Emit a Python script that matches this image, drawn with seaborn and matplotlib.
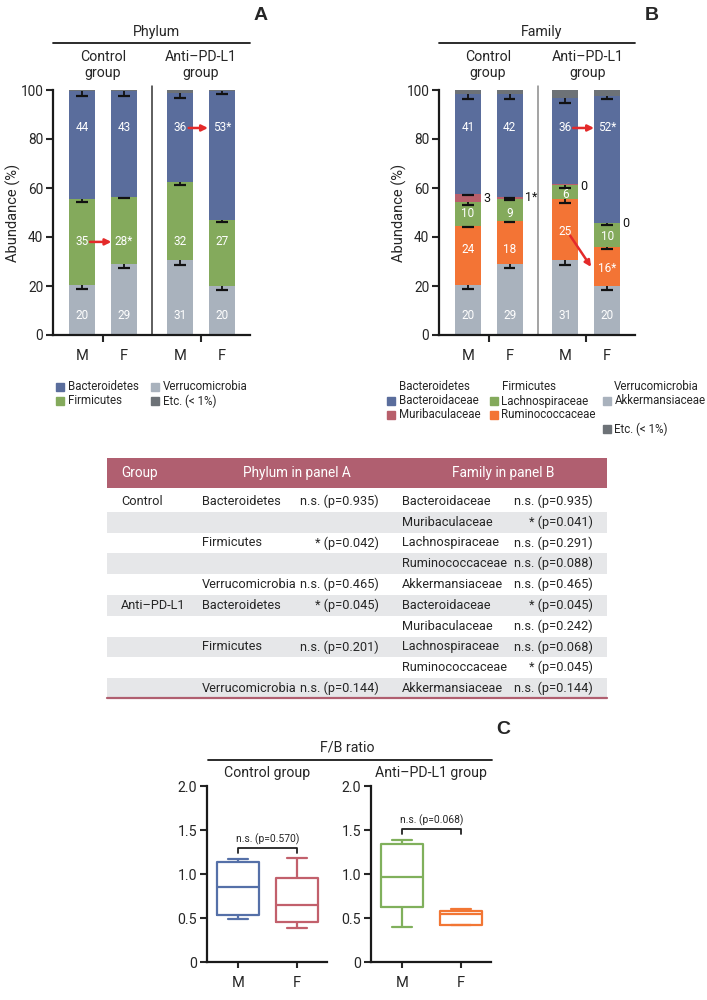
import numpy as np
import pandas as pd
import matplotlib
matplotlib.use("Agg")
import matplotlib.pyplot as plt
import seaborn as sns
from matplotlib.lines import Line2D
from matplotlib.patches import Rectangle

sns.set_theme(style="white")
plt.rcParams["font.family"] = ["Roboto", "DejaVu Sans"]

# ---------------- data ----------------
bar_sex = ["M", "F", "M", "F"]
bar_pos = [0.0, 1.0, 2.333, 3.333]
group_centers = [0.5, 2.833]
group_names = ["Control\ngroup", "Anti\u2013PD-L1\ngroup"]

# Panel A (phylum), stacked bottom -> top
phy_verr = [20.4, 29.0, 30.6, 20.0]
phy_firm = [35.0, 27.5, 32.0, 26.9]
phy_bact = [44.1, 43.0, 36.0, 52.6]
phy_etc = [0.5, 0.5, 1.4, 0.5]
phy_verr_err = [1.8, 1.5, 2.2, 1.8]
phy_firm_err = [1.0, 0.7, 1.4, 0.8]
phy_bact_err = [1.8, 1.8, 1.7, 1.3]
phy_verr_lab = ["20", "29", "31", "20"]
phy_firm_lab = ["35", "28*", "32", "27"]
phy_bact_lab = ["44", "43", "36", "53*"]

# Panel B (family), stacked bottom -> top
fam_akk = [20.4, 29.0, 30.6, 20.0]
fam_rum = [24.0, 17.5, 24.9, 15.8]
fam_lach = [10.0, 9.0, 5.9, 9.8]
fam_mur = [3.0, 1.0, 0.3, 0.3]
fam_bact = [41.0, 42.0, 35.0, 51.7]
fam_akk_err = [1.8, 1.5, 2.2, 1.8]
fam_rum_err = [0.5, 0.4, 1.5, 0.8]
fam_lach_err = [1.2, 0.4, 1.3, 0.7]
fam_mur_err = [0.3, 0.7, 0.0, 0.0]
fam_bact_err = [2.1, 2.2, 1.9, 1.3]
fam_akk_lab = ["20", "29", "31", "20"]
fam_rum_lab = ["24", "18", "25", "16*"]
fam_lach_lab = ["10", "9", "6", "10"]
fam_mur_lab = ["3", "1*", "0", "0"]
fam_bact_lab = ["41", "42", "36", "52*"]

# Table
tbl_group = ["Control", "", "", "", "", "Anti\u2013PD-L1", "", "", "", ""]
tbl_phylum = ["Bacteroidetes", "", "Firmicutes", "", "Verrucomicrobia",
              "Bacteroidetes", "", "Firmicutes", "", "Verrucomicrobia"]
tbl_phylum_p = ["n.s. (p=0.935)", "", "* (p=0.042)", "", "n.s. (p=0.465)",
                "* (p=0.045)", "", "n.s. (p=0.201)", "", "n.s. (p=0.144)"]
tbl_family = ["Bacteroidaceae", "Muribaculaceae", "Lachnospiraceae", "Ruminococcaceae", "Akkermansiaceae",
              "Bacteroidaceae", "Muribaculaceae", "Lachnospiraceae", "Ruminococcaceae", "Akkermansiaceae"]
tbl_family_p = ["n.s. (p=0.935)", "* (p=0.041)", "n.s. (p=0.291)", "n.s. (p=0.088)", "n.s. (p=0.465)",
                "* (p=0.045)", "n.s. (p=0.242)", "n.s. (p=0.068)", "* (p=0.045)", "n.s. (p=0.144)"]

# Panel C (F/B ratio): min, Q1, median, Q3, max
fb_control_M = [0.49, 0.53, 0.85, 1.14, 1.17]
fb_control_F = [0.39, 0.46, 0.65, 0.95, 1.18]
fb_anti_M = [0.40, 0.62, 0.97, 1.34, 1.39]
fb_anti_F = [0.42, 0.42, 0.54, 0.58, 0.60]
fb_pvals = ["n.s. (p=0.570)", "n.s. (p=0.068)"]

# ---------------- style ----------------
C_BLUE = "#5a6d9c"
C_GREEN = "#84aa5c"
C_GRAY = "#a9b2bd"
C_ETC = "#6d7277"
C_MUR = "#b85f6b"
C_ORANGE = "#f37435"
C_RED = "#e42a2a"
C_HEAD = "#b05f70"
C_ROW = "#e6e7e9"

FS_HEAD = 10.2
FS_TICK = 9.8
FS_MF = 10.5
FS_LEG = 8.3
FS_TBL = 9.2
FS_BAR = 8.5
FS_PV = 7.4
BOLD = ["Liberation Sans", "DejaVu Sans"]

W, H = 707, 1000
fig = plt.figure(figsize=(W / 100, H / 100), dpi=100)


def fx(x):
    return x / W


def fy(y):
    return 1 - y / H


def ftext(x, y, s, **kw):
    kw.setdefault("ha", "center")
    kw.setdefault("va", "center")
    fig.text(fx(x), fy(y), s, **kw)


def fline(x0, x1, y, **kw):
    fig.add_artist(Line2D([fx(x0), fx(x1)], [fy(y), fy(y)], color="k", lw=1.3, **kw))


def fsquare(x, y, c):
    fig.add_artist(Line2D([fx(x)], [fy(y)], marker="s", ms=5.3, color=c, ls="none"))


def stacked_panel(ax, layers, colors, errs, div_color):
    cums = np.cumsum(np.array(layers), axis=0)
    tops = list(cums) + [np.full(len(bar_pos), 100.0)]
    cols = list(colors) + [C_ETC]
    for top, c in reversed(list(zip(tops, cols))):
        sns.barplot(x=bar_pos, y=top, native_scale=True, color=c, width=0.62,
                    errorbar=None, saturation=1, linewidth=0, edgecolor="none", ax=ax)
    for top, err in zip(cums, errs):
        for xp, t, e in zip(bar_pos, top, err):
            if e <= 0:
                continue
            ax.vlines(xp, t - e, t, color="#111111", lw=1.3, zorder=5)
            ax.hlines(t - e, xp - 0.14, xp + 0.14, color="#111111", lw=1.6, zorder=5)
    ax.set_xlim(-0.69, 4.0)
    ax.set_ylim(0, 100)
    ax.axvline(1.667, ymin=0, ymax=1.018, color=div_color, lw=1.1, clip_on=False)
    sns.despine(ax=ax)
    for s in ["left", "bottom"]:
        ax.spines[s].set_linewidth(1.6)
        ax.spines[s].set_color("#1a1a1a")
    ax.set_yticks([0, 20, 40, 60, 80, 100])
    ax.tick_params(axis="y", labelsize=FS_TICK, length=5, width=1.5, direction="out", left=True, pad=2)
    ax.set_xticks(group_centers)
    ax.set_xticklabels(["", ""])
    ax.set_xticks(bar_pos, minor=True)
    ax.set_xticklabels(bar_sex, minor=True)
    ax.tick_params(axis="x", which="major", length=5, width=1.5, direction="out", bottom=True)
    ax.tick_params(axis="x", which="minor", length=0, labelsize=FS_MF, pad=10)
    ax.set_xlabel("")
    ax.set_ylabel("Abundance (%)", fontsize=10.5)
    ax.patch.set_alpha(0)
    return cums


def white_labels(ax, labels, ys):
    for xp, lab, y in zip(bar_pos, labels, ys):
        ax.text(xp, y, lab, color="white", ha="center", va="center", fontsize=FS_BAR, zorder=6)


def red_arrow(ax, start, end):
    ax.annotate("", xy=end, xytext=start,
                arrowprops=dict(arrowstyle="-|>", color=C_RED, lw=1.8, mutation_scale=9,
                                shrinkA=0, shrinkB=0), zorder=7)


# ---------------- Panel A ----------------
axA = fig.add_axes([fx(53), fy(335), fx(197), 245 / H])
stacked_panel(axA, [phy_verr, phy_firm, phy_bact], [C_GRAY, C_GREEN, C_BLUE],
              [phy_verr_err, phy_firm_err, phy_bact_err], "#333333")
axA.yaxis.set_label_coords(-32 / 197, 0.5)
white_labels(axA, phy_verr_lab, [8] * 4)
white_labels(axA, phy_firm_lab, [38] * 4)
white_labels(axA, phy_bact_lab, [84.5] * 4)
red_arrow(axA, (0.19, 38), (0.70, 38))
red_arrow(axA, (2.54, 84.5), (3.0, 84.5))

ftext(156, 32, "Phylum", fontsize=FS_HEAD)
fline(53, 250, 43)
ftext(103, 65, group_names[0], fontsize=FS_HEAD, linespacing=1.15)
ftext(201, 65, group_names[1], fontsize=FS_HEAD, linespacing=1.15)
ftext(261, 16, "A", fontsize=14, fontweight="bold", family=BOLD)

# legend A
for x, y, lab, c in [(60, 387, "Bacteroidetes", C_BLUE), (60, 401, "Firmicutes", C_GREEN),
                     (155, 387, "Verrucomicrobia", C_GRAY), (155, 401, "Etc. (< 1%)", C_ETC)]:
    fsquare(x, y, c)
    ftext(x + 8, y, lab, ha="left", fontsize=FS_LEG)

# ---------------- Panel B ----------------
axB = fig.add_axes([fx(439), fy(335), fx(196), 245 / H])
cumB = stacked_panel(axB, [fam_akk, fam_rum, fam_lach, fam_mur, fam_bact],
                     [C_GRAY, C_ORANGE, C_GREEN, C_MUR, C_BLUE],
                     [fam_akk_err, fam_rum_err, fam_lach_err, fam_mur_err, fam_bact_err], "#8a8a8a")
axB.yaxis.set_label_coords(-32 / 196, 0.5)
white_labels(axB, fam_akk_lab, [8] * 4)
white_labels(axB, fam_rum_lab, [35, 35, 42.2, 27])
white_labels(axB, fam_lach_lab, [49.7, 49.7, 57.5, 40.4])
white_labels(axB, fam_bact_lab, [84.5] * 4)
for xp, lab, y in zip(bar_pos, fam_mur_lab, [55.9, 56.0, 60.8, 45.6]):
    axB.text(xp + 0.36, y, lab, color="#111111", ha="left", va="center", fontsize=9)
red_arrow(axB, (2.52, 84.5), (3.02, 84.5))
red_arrow(axB, (2.45, 40.5), (2.95, 27.8))

ftext(542, 32, "Family", fontsize=FS_HEAD)
fline(439, 635, 43)
ftext(488, 65, group_names[0], fontsize=FS_HEAD, linespacing=1.15)
ftext(588, 65, group_names[1], fontsize=FS_HEAD, linespacing=1.15)
ftext(652, 16, "B", fontsize=14, fontweight="bold", family=BOLD)

# legend B
ftext(399, 387, "Bacteroidetes", ha="left", fontsize=FS_LEG)
ftext(502, 387, "Firmicutes", ha="left", fontsize=FS_LEG)
ftext(614, 387, "Verrucomicrobia", ha="left", fontsize=FS_LEG)
for x, y, lab, c in [(391, 401, "Bacteroidaceae", C_BLUE), (391, 415, "Muribaculaceae", C_MUR),
                     (494, 401, "Lachnospiraceae", C_GREEN), (494, 415, "Ruminococcaceae", C_ORANGE),
                     (607, 401, "Akkermansiaceae", C_GRAY), (607, 429, "Etc. (< 1%)", C_ETC)]:
    fsquare(x, y, c)
    ftext(x + 7.5, y, lab, ha="left", fontsize=FS_LEG)

# ---------------- Table ----------------
tax = fig.add_axes([fx(107), fy(699), fx(500), 241 / H])
tax.set_xlim(0, 500)
tax.set_ylim(241, 0)
tax.axis("off")
tax.add_patch(Rectangle((0, 0), 500, 30, color=C_HEAD, lw=0))
for x, s in [(14, "Group"), (136, "Phylum in panel A"), (345, "Family in panel B")]:
    tax.text(x, 15.5, s, color="white", ha="left", va="center", fontsize=9.8)
row_h = 20.8
top0 = 32.9
for i in range(len(tbl_family)):
    top = top0 + row_h * i
    if i % 2 == 1:
        tax.add_patch(Rectangle((0, top), 500, row_h, color=C_ROW, lw=0))
    yc = top + row_h / 2
    tax.text(14, yc, tbl_group[i], ha="left", va="center", fontsize=FS_TBL)
    tax.text(95, yc, tbl_phylum[i], ha="left", va="center", fontsize=FS_TBL)
    tax.text(272, yc, tbl_phylum_p[i], ha="right", va="center", fontsize=FS_TBL)
    tax.text(295, yc, tbl_family[i], ha="left", va="center", fontsize=FS_TBL)
    tax.text(486, yc, tbl_family_p[i], ha="right", va="center", fontsize=FS_TBL)
tax.plot([0, 500], [240.2, 240.2], color=C_HEAD, lw=1.6, clip_on=False)

# ---------------- Panel C ----------------
ftext(347, 748, "F/B ratio", fontsize=FS_HEAD)
fline(208, 492, 760)
ftext(267, 773, "Control group", fontsize=FS_HEAD)
ftext(431, 773, "Anti\u2013PD-L1 group", fontsize=FS_HEAD)
ftext(503, 729, "C", fontsize=14, fontweight="bold", family=BOLD)

box_sets = [
    (207, fb_control_M, fb_control_F, ["#5570a8", "#c2606c"], fb_pvals[0], 1.30, 0.06, 1.40),
    (371, fb_anti_M, fb_anti_F, ["#80b05c", "#f27634"], fb_pvals[1], 1.512, 0.056, 1.607),
]
for left, vm, vf, pal, ptxt, by, bd, ty in box_sets:
    ax = fig.add_axes([fx(left), fy(962), fx(120), 176 / H])
    df = pd.DataFrame({"sex": ["M"] * len(vm) + ["F"] * len(vf), "ratio": vm + vf})
    sns.boxplot(data=df, x="sex", y="ratio", hue="sex", palette=pal, fill=False, width=0.7,
                whis=(0, 100), linewidth=1.6, legend=False, ax=ax)
    ax.set_xlim(-0.525, 1.51)
    ax.set_ylim(0, 2.0)
    ax.set_yticks([0, 0.5, 1.0, 1.5, 2.0])
    ax.set_yticklabels(["0", "0.5", "1.0", "1.5", "2.0"])
    sns.despine(ax=ax)
    for s in ["left", "bottom"]:
        ax.spines[s].set_linewidth(1.6)
        ax.spines[s].set_color("#1a1a1a")
    ax.tick_params(axis="y", labelsize=10.2, length=5, width=1.5, direction="out", left=True, pad=2)
    ax.tick_params(axis="x", labelsize=FS_MF, length=4, width=1.5, direction="out", bottom=True, pad=6)
    ax.set_xlabel("")
    ax.set_ylabel("")
    ax.plot([0, 0, 1, 1], [by - bd, by, by, by - bd], color="#222222", lw=1.3)
    ax.text(0.5, ty, ptxt, ha="center", va="center", fontsize=FS_PV)
    ax.patch.set_alpha(0)

fig.savefig("out.png", dpi=100)
